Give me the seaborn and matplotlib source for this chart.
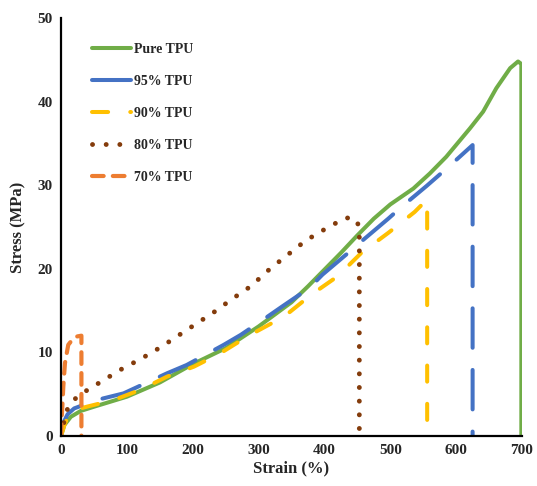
import matplotlib
matplotlib.use("Agg")
import matplotlib.pyplot as plt
import seaborn as sns
from matplotlib.ticker import MultipleLocator

sns.set_style("white")
plt.rcParams['font.family'] = ['Liberation Serif', 'DejaVu Serif']

# ---- data ----
pure_strain = [0, 5, 15, 30, 50, 100, 150, 200, 250, 300, 350, 375, 400, 425, 450, 475, 500, 535, 560, 585, 621, 641, 661, 682, 694, 699, 699]
pure_stress = [0, 1.3, 2.3, 3.0, 3.5, 4.7, 6.4, 8.6, 10.5, 13.1, 16.0, 17.9, 19.9, 21.9, 24.0, 26.0, 27.7, 29.6, 31.4, 33.4, 36.8, 38.8, 41.6, 44.0, 44.8, 44.5, 0]

tpu95_strain = [0, 5, 10, 20, 54, 95, 161, 191, 247, 273, 303, 336, 377, 397, 436, 458, 497, 517, 555, 590, 625, 625]
tpu95_stress = [0, 1.8, 2.6, 3.3, 4.3, 5.1, 7.5, 8.5, 10.9, 12.1, 13.7, 15.5, 17.7, 19.3, 21.9, 23.4, 26.0, 27.4, 29.9, 32.3, 34.8, 0]

tpu90_strain = [0, 6, 14, 25, 39, 80, 120, 161, 202, 242, 285, 339, 380, 420, 456, 497, 537, 556, 556]
tpu90_stress = [0, 1.5, 2.8, 3.2, 3.5, 4.3, 5.5, 7.1, 8.3, 9.9, 12.0, 14.3, 16.9, 19.1, 21.9, 24.3, 26.8, 28.3, 0]

tpu80_strain = [0, 4, 9, 19, 34, 63, 92, 123, 153, 174, 201, 232, 260, 288, 316, 343, 372, 402, 432, 447, 453, 453]
tpu80_stress = [0, 1.5, 3.1, 4.3, 5.2, 6.6, 8.0, 9.3, 10.7, 11.8, 13.2, 14.8, 16.4, 17.9, 19.9, 21.6, 23.4, 24.8, 26.1, 26.0, 25.0, 0]

tpu70_strain = [0, 1, 3.5, 6, 11, 19, 24, 31, 31]
tpu70_stress = [0, 1.9, 5.9, 8.7, 10.9, 11.7, 11.9, 12.0, 0]

labels = ["Pure TPU", "95% TPU", "90% TPU", "80% TPU", "70% TPU"]
x_ticks = [0, 100, 200, 300, 400, 500, 600, 700]
y_ticks = [0, 10, 20, 30, 40, 50]

series = [
    (pure_strain, pure_stress, labels[0], "#70AD47", "-", 2.9),
    (tpu95_strain, tpu95_stress, labels[1], "#4472C4", (0, (9.8, 5.5)), 2.9),
    (tpu90_strain, tpu90_stress, labels[2], "#FFC000", (0, (4.0, 5.5)), 2.9),
    (tpu80_strain, tpu80_stress, labels[3], "#843C0C", (0, (0.01, 2.8)), 3.5),
    (tpu70_strain, tpu70_stress, labels[4], "#ED7D31", (0, (2.8, 2.2)), 3.0),
]

fig = plt.figure(figsize=(5.37, 4.86), dpi=100)
ax = fig.add_axes([61/537, 1-436/486, (522-61)/537, (436-18)/486])

for xs, ys, lab, col, ls, lw in series:
    sns.lineplot(x=xs, y=ys, ax=ax, sort=False, estimator=None, color=col,
                 linestyle=ls, linewidth=lw, label=lab,
                 dash_capstyle="round", solid_capstyle="round", solid_joinstyle="round")

ax.set_xlim(0, 700)
ax.set_ylim(0, 50)
ax.set_xticks(x_ticks)
ax.set_yticks(y_ticks)
ax.xaxis.set_minor_locator(MultipleLocator(50))
ax.yaxis.set_minor_locator(MultipleLocator(5))
ax.tick_params(which="both", direction="in", length=5, width=1.5, color="black")
ax.tick_params(which="major", labelsize=11, pad=6)
for lab in ax.get_xticklabels() + ax.get_yticklabels():
    lab.set_fontweight("bold")

for s in ["top", "right"]:
    ax.spines[s].set_visible(False)
for s in ["left", "bottom"]:
    ax.spines[s].set_linewidth(1.6)
    ax.spines[s].set_color("black")

ax.set_xlabel("Strain (%)", fontsize=12, fontweight="bold", labelpad=2)
ax.set_ylabel("Stress (MPa)", fontsize=12, fontweight="bold", labelpad=8)

leg = ax.legend(loc="upper left", bbox_to_anchor=(0.04, 0.97), frameon=False,
                prop={"weight": "bold", "size": 10}, handlelength=2.8,
                handletextpad=0.25, labelspacing=1.37)

fig.savefig("out.png", dpi=100)
